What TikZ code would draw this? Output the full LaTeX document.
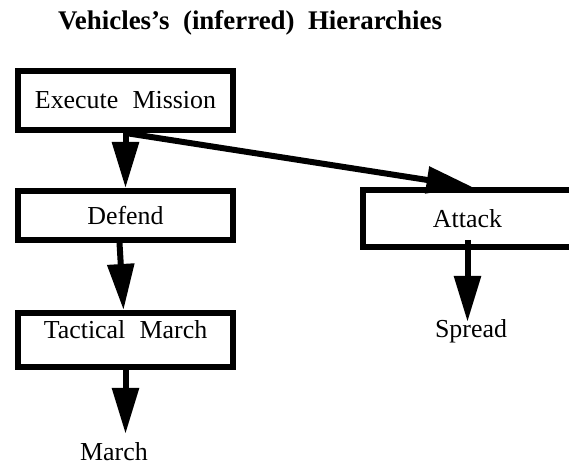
\documentclass[tikz,border=0pt]{standalone}
\usepackage{fontspec}
\setmainfont{Liberation Serif}
\usetikzlibrary{arrows.meta}
\newcommand\wordgap[1]{\spaceskip=#1em\relax}
\tikzstyle{line} = [draw, line width=6bp, -{Triangle[length=46bp,width=26bp]}]
\tikzstyle{box} = [draw, line width=6bp, inner sep=0pt, minimum width=215bp]
\tikzstyle{leaf} = [inner sep=0pt, anchor=base]

\begin{document}
\begin{tikzpicture}[x=1bp, y=-1bp, font={\fontsize{26}{30}\selectfont\wordgap{0.55}}]
\useasboundingbox (0,0) rectangle (569,466);
\node (title) at (250,30) [leaf, font={\fontsize{27}{32}\selectfont\bfseries\wordgap{0.5}}] {Vehicles's (inferred) Hierarchies};
\node (exec) at (125.5,100.5) [box, minimum height=59bp] {Execute Mission};
\node (defend) at (125.5,215.5) [box, minimum height=49bp] {Defend};
\node (tactical) at (125.5,340) [box, minimum height=54bp, text depth=21bp] {Tactical March};
\node (attack) at (467.5,218.5) [box, minimum width=209bp, minimum height=57bp] {Attack};
\node (march) at (114,460) [leaf] {March};
\node (spread) at (471,337) [leaf] {Spread};
% draw lines
\path [line] (exec) -- (defend);
\path [line] (exec.south) -- ([xshift=5bp]attack.north);
\path [line] ([xshift=-6bp]defend.south) -- ([xshift=-2bp]tactical.north);
\path [line, shorten >=8bp] (tactical) -- (tactical.south |- march.north);
\path [line, shorten >=-3bp] ([yshift=10bp]attack.south) -- (attack.south |- spread.north);
\end{tikzpicture}
\end{document}
